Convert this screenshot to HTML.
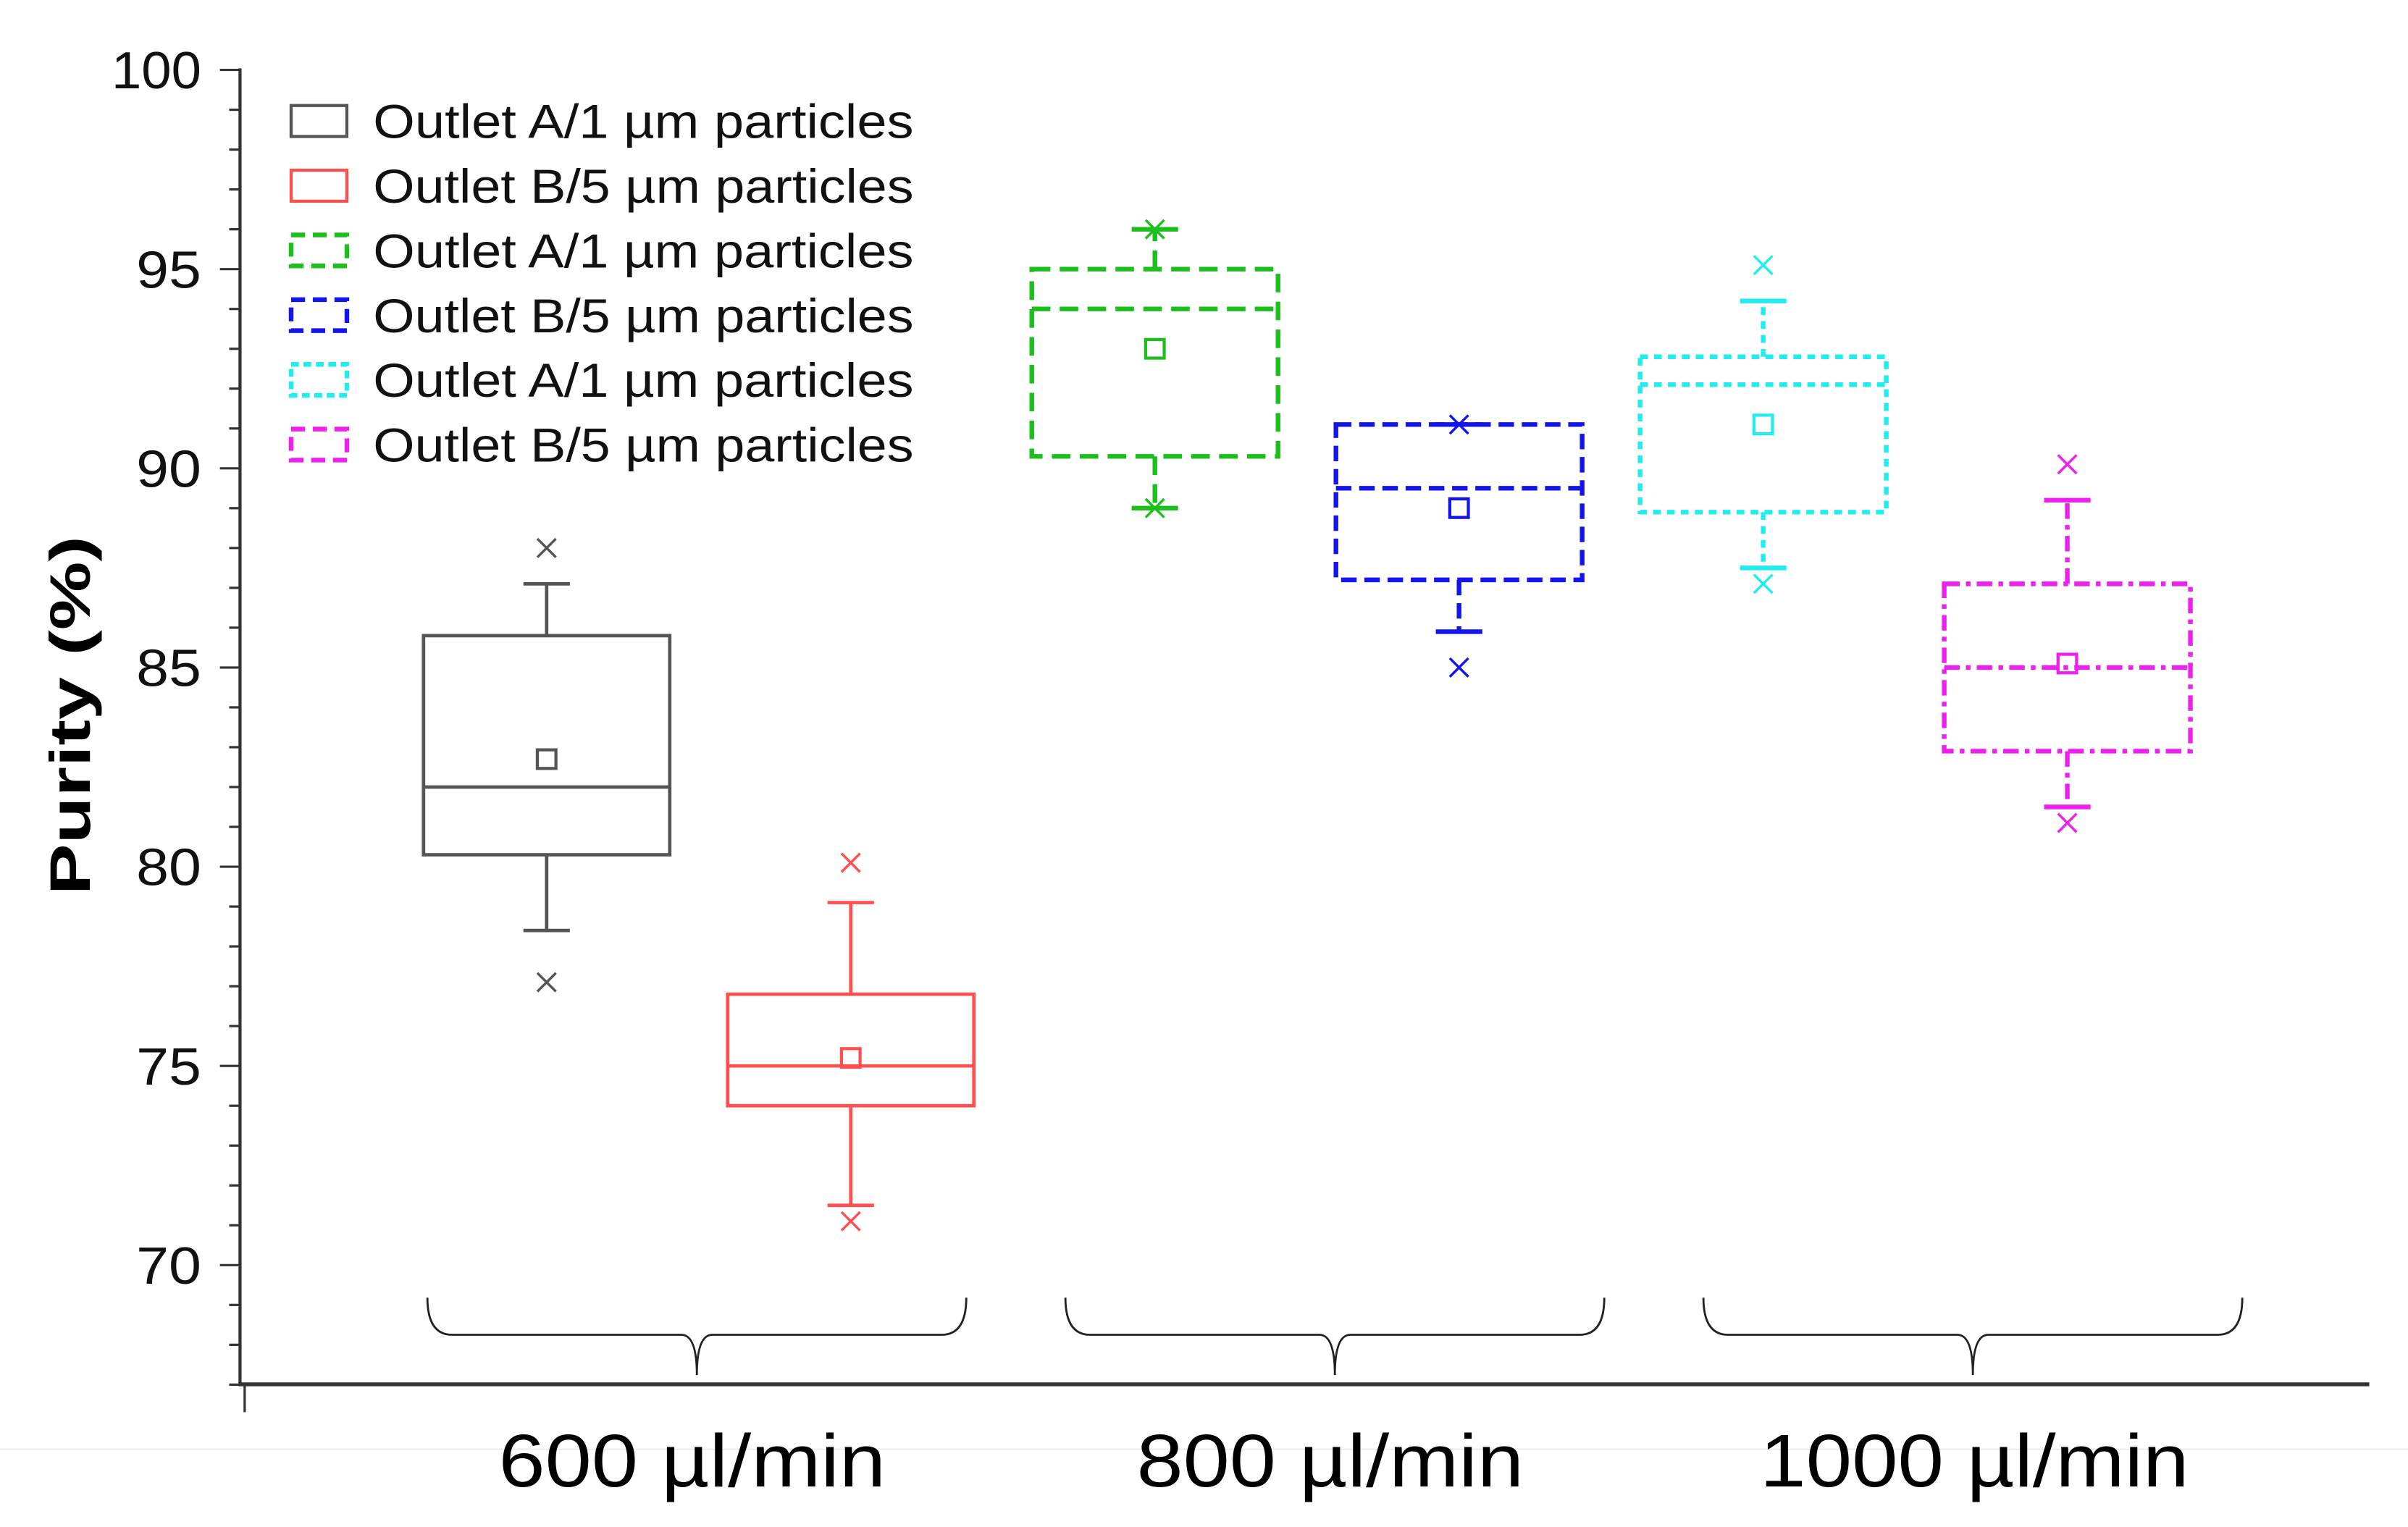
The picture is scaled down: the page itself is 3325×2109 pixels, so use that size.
<!DOCTYPE html>
<html><head><meta charset="utf-8"><style>
html,body{margin:0;padding:0;background:#fff;}
svg{display:block;}
text{font-family:"Liberation Sans",sans-serif;}
</style></head><body>
<svg id="chart" width="3325" height="2109" viewBox="0 0 1555 986" xmlns="http://www.w3.org/2000/svg">
<rect width="1555" height="986" fill="#fff"/>
<line x1="0" y1="936" x2="1555" y2="936" stroke="#eee" stroke-width="1"/>
<g id="axes"></g>
<g id="legend"></g>
<g id="boxes"></g>
<g id="braces"></g>
<text transform="translate(58,462) rotate(-90)" text-anchor="middle" font-size="37" font-weight="bold" textLength="232" lengthAdjust="spacingAndGlyphs">Purity (%)</text>
</svg>
<script>
const categories = ["600 µl/min","800 µl/min","1000 µl/min"];
const seriesNames = ["Outlet A/1 µm particles","Outlet B/5 µm particles","Outlet A/1 µm particles","Outlet B/5 µm particles","Outlet A/1 µm particles","Outlet B/5 µm particles"];
const seriesColors = ["#555555","#ff5050","#1cbf1c","#1414ee","#20eeee","#ee20ee"];
const seriesDash = ["none","none","12,6","10,5","5,4","10,4,3,4"];
const q1 = [80.3,74.0,90.3,87.2,88.9,82.9];
const q3 = [85.8,76.8,95.0,91.1,92.8,87.1];
const median = [82.0,75.0,94.0,89.5,92.1,85.0];
const mean = [82.7,75.2,93.0,89.0,91.1,85.1];
const whiskerLow = [78.4,71.5,89.0,85.9,87.5,81.5];
const whiskerHigh = [87.1,79.1,96.0,91.1,94.2,89.2];
const outlierHigh = [88.0,80.1,96.0,91.1,95.1,90.1];
const outlierLow = [77.1,71.1,89.0,85.0,87.1,81.1];
const yTicks = [70,75,80,85,90,95,100];

const NS="http://www.w3.org/2000/svg";
const yMin=70, yMax=100, yTop=45, yBot=817;
function y(v){return yBot-(v-yMin)*(yBot-yTop)/(yMax-yMin);}
function boxX(i){return 353+i*196.4;}
function groupX(g){return 450+g*412;}
function mk(tag,attrs,parent){const e=document.createElementNS(NS,tag);for(const k in attrs)e.setAttribute(k,attrs[k]);parent.appendChild(e);return e;}

const axes=document.getElementById('axes');
let yl=mk('line',{x1:155,y1:44,x2:155,y2:894,stroke:'#333','stroke-width':2},axes);


let xl=mk('line',{x1:154,y1:894,x2:1530,y2:894,stroke:'#333','stroke-width':2.5},axes);


mk('line',{x1:158,y1:894,x2:158,y2:912,stroke:'#333','stroke-width':1.5},axes);
for(let v=67;v<=100;v++){
  const major=(v%5===0);
  mk('line',{x1:major?142:148,y1:y(v),x2:155,y2:y(v),stroke:'#333','stroke-width':1.5},axes);
}
yTicks.forEach(t=>{
  const w=String(t).length===3?58:42;
  const tx=mk('text',{x:130,y:y(t)+12,'text-anchor':'end','font-size':34,textLength:w,lengthAdjust:'spacingAndGlyphs',fill:'#111'},axes);
  tx.textContent=t;
  
  
});
categories.forEach((c,g)=>{
  const w=c.length>10?277:250;
  const tx=mk('text',{x:groupX(g)-3+(g==2?4:0),y:960,'text-anchor':'middle','font-size':48,textLength:w,lengthAdjust:'spacingAndGlyphs',fill:'#000'},axes);
  tx.textContent=c;
  
  
});

const braces=document.getElementById('braces');
categories.forEach((c,g)=>{
  const cx=groupX(g), l=cx-174, r=cx+174;
  const p=mk('path',{d:`M${l},838 Q${l},862 ${l+16},862 L${cx-10},862 Q${cx},862 ${cx},888 Q${cx},862 ${cx+10},862 L${r-16},862 Q${r},862 ${r},838`,fill:'none',stroke:'#222','stroke-width':1.3},braces);
  
  
});

const legend=document.getElementById('legend');
seriesNames.forEach((n,i)=>{
  const ly=78+i*41.8;
  const g=mk('g',{},legend);
  
  
  mk('rect',{x:188,y:ly-10,width:36,height:20,fill:'none',stroke:seriesColors[i],'stroke-width':i<2?2:3,'stroke-dasharray':i<2?'none':(i==4?'5,3':'9,5')},g);
  const t=mk('text',{x:241,y:ly+11,'font-size':31,textLength:349,lengthAdjust:'spacingAndGlyphs',fill:'#111'},g);
  t.textContent=n;
});

const boxes=document.getElementById('boxes');
seriesNames.forEach((n,i)=>{
  const cx=boxX(i), hw=79.5, col=seriesColors[i], sw=i<2?2.2:3, da=seriesDash[i];
  const g=mk('g',{stroke:col,'stroke-width':sw,fill:'none'},boxes);
  
  
  mk('rect',{x:cx-hw,y:y(q3[i]),width:2*hw,height:y(q1[i])-y(q3[i]),'stroke-dasharray':da},g);
  mk('line',{x1:cx-hw,y1:y(median[i]),x2:cx+hw,y2:y(median[i]),'stroke-dasharray':da},g);
  mk('line',{x1:cx,y1:y(q3[i]),x2:cx,y2:y(whiskerHigh[i]),'stroke-dasharray':da},g);
  mk('line',{x1:cx,y1:y(q1[i]),x2:cx,y2:y(whiskerLow[i]),'stroke-dasharray':da},g);
  mk('line',{x1:cx-15,y1:y(whiskerHigh[i]),x2:cx+15,y2:y(whiskerHigh[i]),'stroke-dasharray':'none'},g);
  mk('line',{x1:cx-15,y1:y(whiskerLow[i]),x2:cx+15,y2:y(whiskerLow[i]),'stroke-dasharray':'none'},g);
  mk('rect',{x:cx-6,y:y(mean[i])-6,width:12,height:12,'stroke-width':2,'stroke-dasharray':'none'},g);
  [outlierHigh[i],outlierLow[i]].forEach(o=>{
    const oy=y(o);
    mk('path',{d:`M${cx-6},${oy-6}L${cx+6},${oy+6}M${cx+6},${oy-6}L${cx-6},${oy+6}`,'stroke-width':1.6,'stroke-dasharray':'none'},g);
  });
});
</script>
</body></html>
